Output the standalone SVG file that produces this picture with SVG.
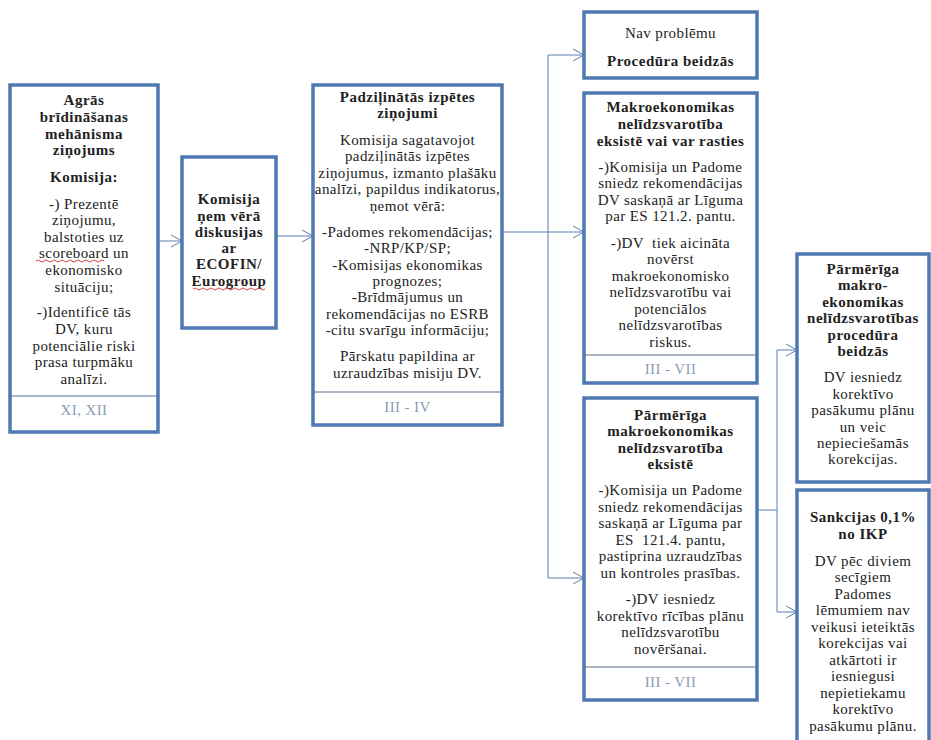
<svg xmlns="http://www.w3.org/2000/svg" width="931" height="740" viewBox="0 0 931 740">
<defs>
<marker id="arr" markerWidth="14" markerHeight="14" refX="12" refY="7" orient="auto" markerUnits="userSpaceOnUse">
<path d="M1,1 L12,7 L1,13" fill="none" stroke="#5b7fb0" stroke-width="1"/>
</marker>
</defs>
<style>
.box{fill:#fff;stroke:#4e79b3;stroke-width:3.5}
.div{stroke:#5a6f90;stroke-width:1}
text{font-family:"Liberation Serif","Times New Roman",serif;font-size:15px;letter-spacing:0.4px;fill:#222;text-anchor:middle}
.b{font-weight:bold;letter-spacing:0.5px}
.ft{fill:#8c9bb5}
.con{fill:none;stroke:#5b7fb0;stroke-width:1}
.wav{fill:none;stroke:#d03030;stroke-width:0.9}
</style>
<rect width="931" height="740" fill="#fff"/>

<g id="connectors">
<path class="con" d="M158,241 H182" marker-end="url(#arr)"/>
<path class="con" d="M276,236 H313" marker-end="url(#arr)"/>
<path class="con" d="M502,232 H584" marker-end="url(#arr)"/>
<path class="con" d="M548,232 V55 H584" marker-end="url(#arr)"/>
<path class="con" d="M548,232 V578 H584" marker-end="url(#arr)"/>
<path class="con" d="M757,510 H777 V350 H797" marker-end="url(#arr)"/>
<path class="con" d="M777,510 V612 H797" marker-end="url(#arr)"/>
</g>

<g id="n_agras">
<rect class="box" x="10" y="85" width="148" height="347"/>
<line class="div" x1="11" y1="396" x2="157" y2="396"/>
<text class="b" x="84" y="105">Agrās</text>
<text class="b" x="84" y="122">brīdināšanas</text>
<text class="b" x="84" y="139">mehānisma</text>
<text class="b" x="84" y="155">ziņojums</text>
<text class="b" x="84" y="182">Komisija:</text>
<text x="84" y="209">-) Prezentē</text>
<text x="84" y="225">ziņojumu,</text>
<text x="84" y="242">balstoties uz</text>
<text x="84" y="258">scoreboard un</text>
<path class="wav" d="M36,261 q2,-2 4,0 t4,0 t4,0 t4,0 t4,0 t4,0 t4,0 t4,0 t4,0 t4,0 t4,0 t4,0 t4,0 t4,0 t4,0 t4,0 t4,0"/>
<text x="84" y="275">ekonomisko</text>
<text x="84" y="292">situāciju;</text>
<text x="84" y="317">-)Identificē tās</text>
<text x="84" y="334">DV, kuru</text>
<text x="84" y="351">potenciālie riski</text>
<text x="84" y="367">prasa turpmāku</text>
<text x="84" y="384">analīzi.</text>
<text class="ft" x="84" y="415">XI, XII</text>
</g>

<g id="n_ecofin">
<rect class="box" x="182" y="157" width="94" height="171"/>
<text class="b" x="229" y="204">Komisija</text>
<text class="b" x="229" y="221">ņem vērā</text>
<text class="b" x="229" y="237">diskusijas</text>
<text class="b" x="229" y="253">ar</text>
<text class="b" x="229" y="269">ECOFIN/</text>
<text class="b" x="229" y="286">Eurogroup</text>
<path class="wav" d="M193,289 q2,-2 4,0 t4,0 t4,0 t4,0 t4,0 t4,0 t4,0 t4,0 t4,0 t4,0 t4,0 t4,0 t4,0 t4,0 t4,0 t4,0 t4,0 t4,0"/>
</g>

<g id="n_padzilinatas">
<rect class="box" x="313" y="85" width="189" height="340"/>
<line class="div" x1="314" y1="392" x2="501" y2="392"/>
<text class="b" x="407.5" y="102">Padziļinātās izpētes</text>
<text class="b" x="407.5" y="118">ziņojumi</text>
<text x="407.5" y="145">Komisija sagatavojot</text>
<text x="407.5" y="161">padziļinātās izpētes</text>
<text x="407.5" y="178">ziņojumus, izmanto plašāku</text>
<text x="407.5" y="194">analīzi, papildus indikatorus,</text>
<text x="407.5" y="211">ņemot vērā:</text>
<text x="407.5" y="237">-Padomes rekomendācijas;</text>
<text x="407.5" y="253">-NRP/KP/SP;</text>
<text x="407.5" y="270">-Komisijas ekonomikas</text>
<text x="407.5" y="286">prognozes;</text>
<text x="407.5" y="302">-Brīdmājumus un</text>
<text x="407.5" y="319">rekomendācijas no ESRB</text>
<text x="407.5" y="335">-citu svarīgu informāciju;</text>
<text x="407.5" y="361">Pārskatu papildina ar</text>
<text x="407.5" y="378">uzraudzības misiju DV.</text>
<text class="ft" x="407.5" y="412">III - IV</text>
</g>

<g id="n_nav">
<rect class="box" x="584" y="12" width="173" height="66"/>
<text x="670.5" y="38">Nav problēmu</text>
<text class="b" x="670.5" y="66">Procedūra beidzās</text>
</g>

<g id="n_makro">
<rect class="box" x="584" y="93" width="173" height="290"/>
<line class="div" x1="585" y1="355" x2="756" y2="355"/>
<text class="b" x="670.5" y="112">Makroekonomikas</text>
<text class="b" x="670.5" y="129">nelīdzsvarotība</text>
<text class="b" x="670.5" y="146">eksistē vai var rasties</text>
<text x="670.5" y="172">-)Komisija un Padome</text>
<text x="670.5" y="188">sniedz rekomendācijas</text>
<text x="670.5" y="205">DV saskaņā ar Līguma</text>
<text x="670.5" y="221">par ES 121.2. pantu.</text>
<text x="670.5" y="248" xml:space="preserve">-)DV  tiek aicināta</text>
<text x="670.5" y="264">novērst</text>
<text x="670.5" y="281">makroekonomisko</text>
<text x="670.5" y="297">nelīdzsvarotību vai</text>
<text x="670.5" y="314">potenciālos</text>
<text x="670.5" y="330">nelīdzsvarotības</text>
<text x="670.5" y="347">riskus.</text>
<text class="ft" x="670.5" y="374">III - VII</text>
</g>

<g id="n_parmeriga">
<rect class="box" x="584" y="398" width="173" height="302"/>
<line class="div" x1="585" y1="667" x2="756" y2="667"/>
<text class="b" x="670.5" y="420">Pārmērīga</text>
<text class="b" x="670.5" y="436">makroekonomikas</text>
<text class="b" x="670.5" y="453">nelīdzsvarotība</text>
<text class="b" x="670.5" y="469">eksistē</text>
<text x="670.5" y="495">-)Komisija un Padome</text>
<text x="670.5" y="512">sniedz rekomendācijas</text>
<text x="670.5" y="528">saskaņā ar Līguma par</text>
<text x="670.5" y="545" xml:space="preserve">ES  121.4. pantu,</text>
<text x="670.5" y="561">pastiprina uzraudzības</text>
<text x="670.5" y="578">un kontroles prasības.</text>
<text x="670.5" y="604">-)DV iesniedz</text>
<text x="670.5" y="621">korektīvo rīcības plānu</text>
<text x="670.5" y="637">nelīdzsvarotību</text>
<text x="670.5" y="654">novēršanai.</text>
<text class="ft" x="670.5" y="687">III - VII</text>
</g>

<g id="n_beidzas">
<rect class="box" x="797" y="254" width="132" height="228"/>
<text class="b" x="863" y="274">Pārmērīga</text>
<text class="b" x="863" y="290">makro-</text>
<text class="b" x="863" y="307">ekonomikas</text>
<text class="b" x="863" y="323">nelīdzsvarotības</text>
<text class="b" x="863" y="340">procedūra</text>
<text class="b" x="863" y="356">beidzās</text>
<text x="863" y="382">DV iesniedz</text>
<text x="863" y="399">korektīvo</text>
<text x="863" y="415">pasākumu plānu</text>
<text x="863" y="432">un veic</text>
<text x="863" y="448">nepieciešamās</text>
<text x="863" y="464">korekcijas.</text>
</g>

<g id="n_sankcijas">
<rect class="box" x="797" y="490" width="132" height="260"/>
<text class="b" x="863" y="522">Sankcijas 0,1%</text>
<text class="b" x="863" y="539">no IKP</text>
<text x="863" y="566">DV pēc diviem</text>
<text x="863" y="582">secīgiem</text>
<text x="863" y="599">Padomes</text>
<text x="863" y="615">lēmumiem nav</text>
<text x="863" y="632">veikusi ieteiktās</text>
<text x="863" y="648">korekcijas vai</text>
<text x="863" y="665">atkārtoti ir</text>
<text x="863" y="681">iesniegusi</text>
<text x="863" y="698">nepietiekamu</text>
<text x="863" y="714">korektīvo</text>
<text x="863" y="731">pasākumu plānu.</text>
</g>
</svg>
